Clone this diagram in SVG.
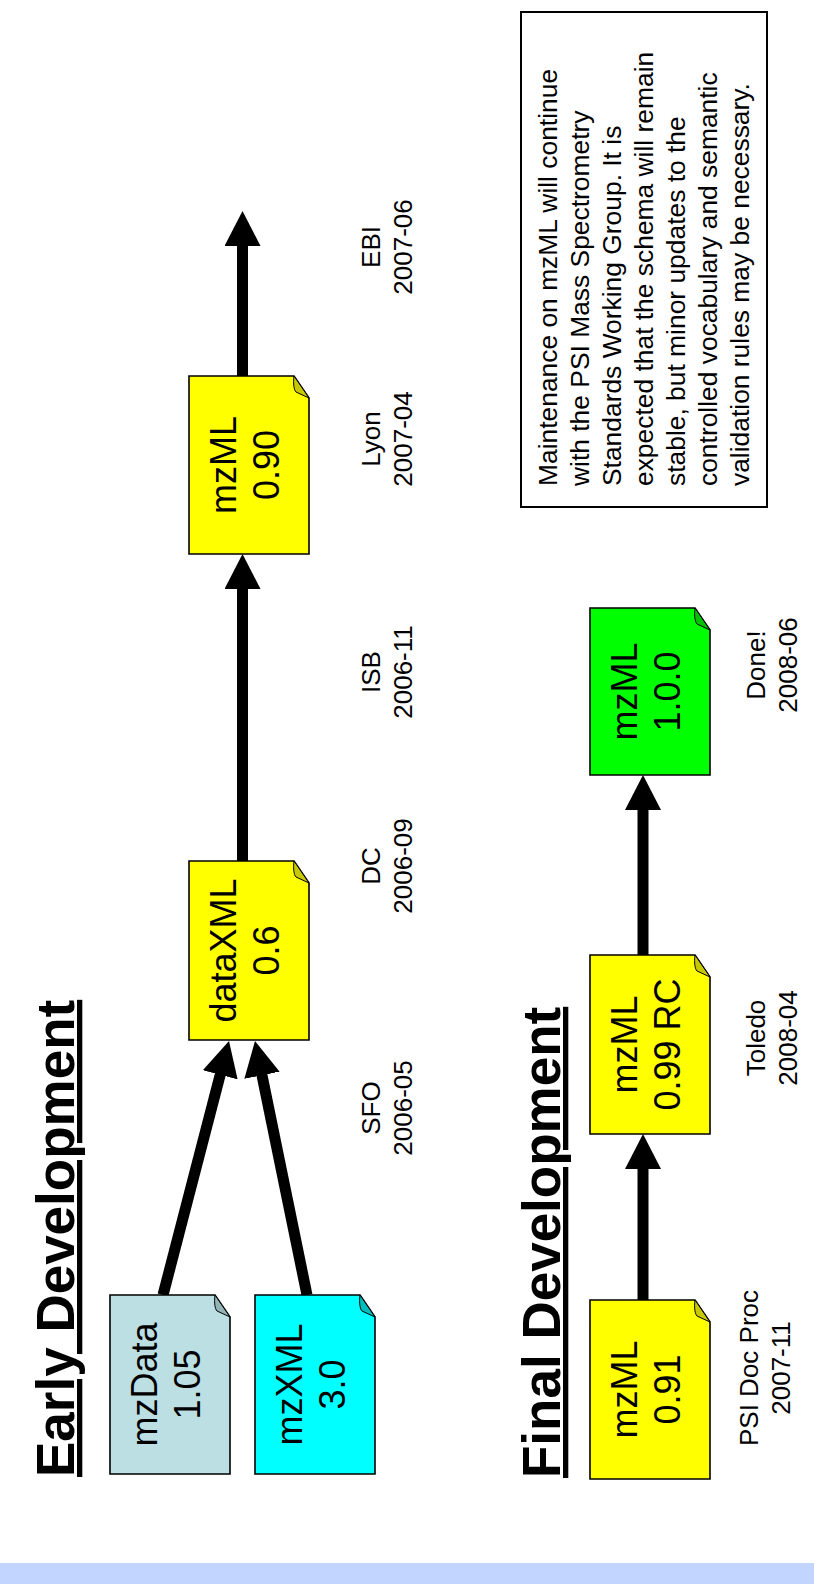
<svg xmlns="http://www.w3.org/2000/svg" width="814" height="1584" viewBox="0 0 814 1584">
<style>
.doc{stroke:#000;stroke-width:1.6;stroke-linejoin:miter}
.fold{stroke:#000;stroke-width:1}
.node{font-family:"Liberation Sans",Arial,sans-serif;font-size:36px;fill:#000;text-anchor:middle}
.lbl{font-family:"Liberation Sans",Arial,sans-serif;font-size:26px;fill:#000;text-anchor:middle}
.note{font-family:"Liberation Sans",Arial,sans-serif;font-size:26.4px;fill:#000}
.title{font-family:"Liberation Sans",Arial,sans-serif;font-size:53px;font-weight:bold;fill:#000;text-decoration:underline}
.conn{stroke:#000;stroke-width:11;fill:none;marker-end:url(#ah)}
</style>
<defs>
<marker id="ah" markerUnits="userSpaceOnUse" markerWidth="35" markerHeight="36" viewBox="0 0 35 36" refX="2" refY="18" orient="auto">
<path d="M0,0 L35,18 L0,36 Z" fill="#000"/>
</marker>
</defs>
<rect x="0" y="0" width="814" height="1584" fill="#fff"/>
<rect x="0" y="1563" width="814" height="21" fill="#C2D5FE"/>

<g id="connectors">
<line class="conn" x1="163" y1="1295" x2="220.7" y2="1072.9"/>
<line class="conn" x1="307" y1="1295" x2="261.6" y2="1073.3"/>
<line class="conn" x1="242.5" y1="861" x2="242.5" y2="587"/>
<line class="conn" x1="242.5" y1="376" x2="242.5" y2="244"/>
<line class="conn" x1="643" y1="1300" x2="643" y2="1167"/>
<line class="conn" x1="643" y1="955" x2="643" y2="808"/>
</g>

<g id="title-early"><text class="title" transform="translate(74,1477) rotate(-90)">Early Development</text></g>
<g id="title-final"><text class="title" transform="translate(560,1478) rotate(-90)">Final Development</text></g>

<g id="mzData">
<path class="doc" fill="#BBDFE2" d="M110,1295 H215 L230,1317 V1474 H110 Z"/>
<path class="fold" fill="#93B4B6" d="M215,1295 C214,1303 215,1309 217,1311 L230,1317 Z"/>
<text class="node" transform="translate(157,1384.5) rotate(-90)"><tspan x="0" y="0">mzData</tspan><tspan x="0" y="43">1.05</tspan></text>
</g>

<g id="mzXML">
<path class="doc" fill="#00FFFF" d="M255,1295 H360 L375,1317 V1474 H255 Z"/>
<path class="fold" fill="#00BDBD" d="M360,1295 C359,1303 360,1309 362,1311 L375,1317 Z"/>
<text class="node" transform="translate(302,1384.5) rotate(-90)"><tspan x="0" y="0">mzXML</tspan><tspan x="0" y="43">3.0</tspan></text>
</g>

<g id="dataXML">
<path class="doc" fill="#FFFF00" d="M189,861 H294 L309,883 V1040 H189 Z"/>
<path class="fold" fill="#C8C800" d="M294,861 C293,869 294,875 296,877 L309,883 Z"/>
<text class="node" transform="translate(236,950.5) rotate(-90)"><tspan x="0" y="0">dataXML</tspan><tspan x="0" y="43">0.6</tspan></text>
</g>

<g id="mzML090">
<path class="doc" fill="#FFFF00" d="M189,376 H294 L309,398 V554 H189 Z"/>
<path class="fold" fill="#C8C800" d="M294,376 C293,384 294,390 296,392 L309,398 Z"/>
<text class="node" transform="translate(236,465) rotate(-90)"><tspan x="0" y="0">mzML</tspan><tspan x="0" y="43">0.90</tspan></text>
</g>

<g id="mzML091">
<path class="doc" fill="#FFFF00" d="M590,1300 H695 L710,1322 V1479 H590 Z"/>
<path class="fold" fill="#C8C800" d="M695,1300 C694,1308 695,1314 697,1316 L710,1322 Z"/>
<text class="node" transform="translate(637,1389.5) rotate(-90)"><tspan x="0" y="0">mzML</tspan><tspan x="0" y="43">0.91</tspan></text>
</g>

<g id="mzML099RC">
<path class="doc" fill="#FFFF00" d="M590,955 H695 L710,977 V1134 H590 Z"/>
<path class="fold" fill="#C8C800" d="M695,955 C694,963 695,969 697,971 L710,977 Z"/>
<text class="node" transform="translate(637,1044.5) rotate(-90)"><tspan x="0" y="0">mzML</tspan><tspan x="0" y="43">0.99 RC</tspan></text>
</g>

<g id="mzML100">
<path class="doc" fill="#00FF00" d="M590,608 H695 L710,630 V775 H590 Z"/>
<path class="fold" fill="#00C000" d="M695,608 C694,616 695,622 697,624 L710,630 Z"/>
<text class="node" transform="translate(637,691.5) rotate(-90)"><tspan x="0" y="0">mzML</tspan><tspan x="0" y="43">1.0.0</tspan></text>
</g>

<g id="labels">
<text class="lbl" transform="translate(380,1108) rotate(-90)"><tspan x="0" y="0">SFO</tspan><tspan x="0" y="32">2006-05</tspan></text>
<text class="lbl" transform="translate(380,866) rotate(-90)"><tspan x="0" y="0">DC</tspan><tspan x="0" y="32">2006-09</tspan></text>
<text class="lbl" transform="translate(380,672) rotate(-90)"><tspan x="0" y="0">ISB</tspan><tspan x="0" y="32">2006-11</tspan></text>
<text class="lbl" transform="translate(380,439) rotate(-90)"><tspan x="0" y="0">Lyon</tspan><tspan x="0" y="32">2007-04</tspan></text>
<text class="lbl" transform="translate(380,247) rotate(-90)"><tspan x="0" y="0">EBI</tspan><tspan x="0" y="32">2007-06</tspan></text>
<text class="lbl" transform="translate(758,1368) rotate(-90)"><tspan x="0" y="0">PSI Doc Proc</tspan><tspan x="0" y="32">2007-11</tspan></text>
<text class="lbl" transform="translate(765,1038) rotate(-90)"><tspan x="0" y="0">Toledo</tspan><tspan x="0" y="32">2008-04</tspan></text>
<text class="lbl" transform="translate(765,665) rotate(-90)"><tspan x="0" y="0">Done!</tspan><tspan x="0" y="32">2008-06</tspan></text>
</g>

<g id="note">
<rect x="521" y="12" width="246" height="495" fill="#fff" stroke="#000" stroke-width="2"/>
<text class="note" transform="translate(557,486) rotate(-90)">
<tspan x="0" y="0">Maintenance on mzML will continue</tspan>
<tspan x="0" y="32">with the PSI Mass Spectrometry</tspan>
<tspan x="0" y="64">Standards Working Group. It is</tspan>
<tspan x="0" y="96">expected that the schema will remain</tspan>
<tspan x="0" y="128">stable, but minor updates to the</tspan>
<tspan x="0" y="160">controlled vocabulary and semantic</tspan>
<tspan x="0" y="192">validation rules may be necessary.</tspan>
</text>
</g>
</svg>
